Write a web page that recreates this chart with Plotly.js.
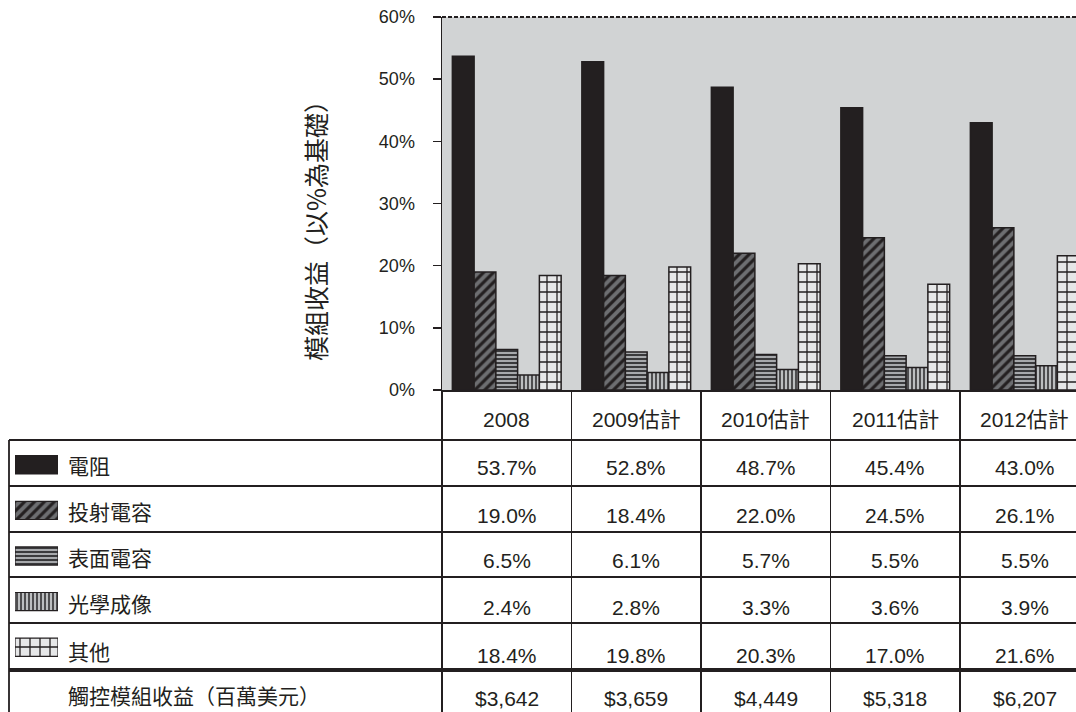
<!DOCTYPE html>
<html>
<head>
<meta charset="utf-8">
<script src="https://cdn.plot.ly/plotly-3.0.1.min.js"></script>
<style>html,body{margin:0;padding:0;background:#fff;}#chart{width:1076px;height:712px;}</style>
</head>
<body>
<div id="chart"></div>
<script>
// ---- data ----
const categories = ['2008', '2009估計', '2010估計', '2011估計', '2012估計'];
const seriesNames = ['電阻', '投射電容', '表面電容', '光學成像', '其他'];
const resistive = [53.7, 52.8, 48.7, 45.4, 43.0];
const projectedCap = [19.0, 18.4, 22.0, 24.5, 26.1];
const surfaceCap = [6.5, 6.1, 5.7, 5.5, 5.5];
const opticalImaging = [2.4, 2.8, 3.3, 3.6, 3.9];
const others = [18.4, 19.8, 20.3, 17.0, 21.6];
const revenue = [3642, 3659, 4449, 5318, 6207];
const revenueLabel = '觸控模組收益（百萬美元）';
const yTitle = '模組收益（以%為基礎）';
const yTicks = [0, 10, 20, 30, 40, 50, 60];

// ---- styling ----
const W = 1076, H = 712;
const INK = '#231f20';
const NUMFONT = 'Liberation Sans, Arial, Noto Sans CJK TC, sans-serif';
const CJKFONT = 'Noto Sans CJK TC, Noto Sans CJK SC, sans-serif';
const styles = [
  {color: INK, pattern: {shape: ''}},
  {color: '#6d6e71', pattern: {shape: '/', bgcolor: '#6d6e71', fgcolor: INK, size: 7, solidity: 0.45}},
  {color: '#a7a9ac', pattern: {shape: '-', bgcolor: '#a7a9ac', fgcolor: '#3a3a3c', size: 4, solidity: 0.5}},
  {color: '#bcbec0', pattern: {shape: '|', bgcolor: '#bcbec0', fgcolor: '#414042', size: 4, solidity: 0.45}},
  {color: '#e6e7e8', pattern: {shape: '+', bgcolor: '#e6e7e8', fgcolor: INK, size: 10, solidity: 0.24}}
];
const seriesValues = [resistive, projectedCap, surfaceCap, opticalImaging, others];

// pixel helpers for the table layout
const px = v => v / W;
const py = v => (H - v) / H;

const plotLeft = 442, plotTop = 17, plotBottom = 390;
const colWidth = 129.5;
const xRange = [-0.5, -0.5 + (W - plotLeft) / colWidth];

const traces = seriesValues.map((vals, i) => ({
  type: 'bar',
  name: seriesNames[i],
  x: categories,
  y: vals,
  marker: {color: styles[i].color, pattern: styles[i].pattern, line: {color: INK, width: 1.5}},
  showlegend: false,
  hoverinfo: 'skip'
}));

// legend swatches inside the table (one bar per series on a small side axis)
seriesNames.forEach((n, i) => {
  traces.push({
    type: 'bar',
    orientation: 'h',
    y: [n],
    x: [1],
    width: 0.4,
    offset: -0.2,
    xaxis: 'x2',
    yaxis: 'y2',
    marker: {color: styles[i].color, pattern: styles[i].pattern, line: {color: INK, width: 1.2}},
    showlegend: false,
    hoverinfo: 'skip'
  });
});

const rowLines = [440, 486, 532, 577, 623];
const valueY = [468, 515, 560, 607, 655];
const labelY = [465, 511, 557, 603, 651];

const shapes = [];
// grey plot background (main plot only)
shapes.push({type: 'rect', xref: 'x domain', yref: 'y domain', x0: 0, x1: 1, y0: 0, y1: 1, layer: 'below', fillcolor: '#d1d3d4', line: {width: 0}});
rowLines.forEach(y => shapes.push({type: 'line', xref: 'paper', yref: 'paper', x0: px(9), x1: 1, y0: py(y), y1: py(y), line: {color: INK, width: 1.8}}));
shapes.push({type: 'line', xref: 'paper', yref: 'paper', x0: px(9), x1: 1, y0: py(670), y1: py(670), line: {color: INK, width: 4}});
shapes.push({type: 'line', xref: 'paper', yref: 'paper', x0: px(9), x1: px(9), y0: py(440), y1: 0, line: {color: INK, width: 1.8}});
// dashed top border of the plot
shapes.push({type: 'line', xref: 'paper', yref: 'paper', x0: px(plotLeft), x1: 1, y0: py(plotTop), y1: py(plotTop), line: {color: INK, width: 2, dash: '4px,2px'}});

const annotations = [];
categories.forEach((c, j) => {
  annotations.push({xref: 'x', yref: 'paper', x: j, y: py(419), text: c, showarrow: false, xanchor: 'center', yanchor: 'middle', font: {family: NUMFONT, size: 21, color: INK}});
  seriesValues.forEach((vals, i) => {
    annotations.push({xref: 'x', yref: 'paper', x: j, y: py(valueY[i]), text: vals[j].toFixed(1) + '%', showarrow: false, xanchor: 'center', yanchor: 'middle', font: {family: NUMFONT, size: 21, color: INK}});
  });
  annotations.push({xref: 'x', yref: 'paper', x: j, y: py(698), text: '$' + revenue[j].toLocaleString('en-US'), showarrow: false, xanchor: 'center', yanchor: 'middle', font: {family: NUMFONT, size: 21, color: INK}});
});
seriesNames.forEach((n, i) => {
  annotations.push({xref: 'paper', yref: 'paper', x: px(66), y: py(labelY[i]), text: n, showarrow: false, xanchor: 'left', yanchor: 'middle', font: {family: CJKFONT, size: 21, color: INK}});
});
annotations.push({xref: 'paper', yref: 'paper', x: px(66), y: py(695), text: revenueLabel, showarrow: false, xanchor: 'left', yanchor: 'middle', font: {family: CJKFONT, size: 21, color: INK}});
annotations.push({xref: 'paper', yref: 'paper', x: px(315), y: py(225), text: yTitle, textangle: -90, showarrow: false, xanchor: 'center', yanchor: 'middle', font: {family: CJKFONT, size: 25, color: INK}});

const layout = {
  width: W, height: H,
  margin: {l: 0, r: 0, t: 0, b: 0, pad: 0},
  paper_bgcolor: '#ffffff',
  plot_bgcolor: 'rgba(0,0,0,0)',
  barmode: 'group',
  bargap: 0.16,
  bargroupgap: 0,
  xaxis: {
    type: 'category',
    domain: [px(plotLeft), 1],
    range: xRange,
    showticklabels: false,
    ticks: 'outside', tickson: 'boundaries', ticklen: H - plotBottom, tickwidth: 1.5, tickcolor: INK,
    showline: true, linecolor: INK, linewidth: 1.5,
    showgrid: false, zeroline: false, fixedrange: true
  },
  yaxis: {
    domain: [py(plotBottom), py(plotTop)],
    range: [0, 60],
    tickvals: yTicks,
    ticktext: yTicks.map(t => t + '%'),
    ticks: 'outside', ticklen: 8, tickwidth: 1.5, tickcolor: INK,
    ticklabelstandoff: 14,
    tickfont: {family: NUMFONT, size: 18, color: INK},
    showline: true, linecolor: INK, linewidth: 1.5,
    showgrid: false, zeroline: false, fixedrange: true
  },
  xaxis2: {domain: [px(15), px(58)], range: [0, 1], anchor: 'y2', visible: false, fixedrange: true},
  yaxis2: {domain: [py(670), py(442)], anchor: 'x2', type: 'category', categoryorder: 'array', categoryarray: seriesNames, autorange: 'reversed', visible: false, fixedrange: true},
  shapes: shapes,
  annotations: annotations
};

Plotly.newPlot('chart', traces, layout, {displayModeBar: false, staticPlot: true});
</script>
</body>
</html>
